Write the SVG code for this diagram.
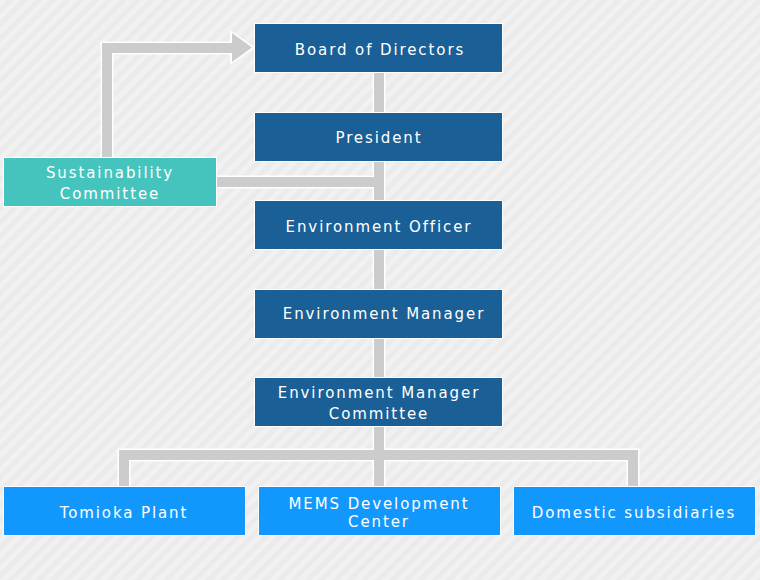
<svg xmlns="http://www.w3.org/2000/svg" width="760" height="580" viewBox="0 0 760 580">
<defs>
<pattern id="bg" patternUnits="userSpaceOnUse" width="10" height="10" patternTransform="rotate(45)">
<rect width="10" height="10" fill="#ebebeb"/>
<rect width="5" height="10" fill="#f1f1f1"/>
</pattern>
<style>
.box{stroke:#ffffff;stroke-width:1}
.dark{fill:#1a6096}
.teal{fill:#45c4be}
.bright{fill:#1298fd}
.t{font-family:"DejaVu Sans",Verdana,sans-serif;font-size:15px;fill:#ffffff;text-anchor:middle;letter-spacing:1.9px}
.cw{fill:none;stroke:#ffffff;stroke-width:13}
.cg{fill:none;stroke:#cccccc;stroke-width:10}
</style>
</defs>
<rect width="760" height="580" fill="url(#bg)"/>
<g id="connectors">
<path class="cw" d="M379 72V486 M216 182H379 M107 157V48H232 M124 486V455H633V486"/>
<polygon points="230,30 255,47.5 230,65" fill="#ffffff"/>
<path class="cg" d="M379 72V486 M216 182H379 M107 157V48H233 M124 486V455H633V486"/>
<polygon points="232,33 252,47.5 232,62" fill="#cccccc"/>
</g>
<g id="board"><rect class="box dark" x="254.5" y="23.5" width="248" height="49"/><text class="t" x="380" y="55">Board of Directors</text></g>
<g id="president"><rect class="box dark" x="254.5" y="112.5" width="248" height="49"/><text class="t" x="379" y="143">President</text></g>
<g id="sustainability"><rect class="box teal" x="3.5" y="157.5" width="213" height="49"/><text class="t" x="110" y="178">Sustainability</text><text class="t" x="110" y="199">Committee</text></g>
<g id="env-officer"><rect class="box dark" x="254.5" y="200.5" width="248" height="49"/><text class="t" x="379" y="232">Environment Officer</text></g>
<g id="env-manager"><rect class="box dark" x="254.5" y="289.5" width="248" height="49"/><text class="t" x="384" y="319">Environment Manager</text></g>
<g id="env-manager-committee"><rect class="box dark" x="254.5" y="377.5" width="248" height="49"/><text class="t" x="379" y="398">Environment Manager</text><text class="t" x="379" y="419">Committee</text></g>
<g id="tomioka"><rect class="box bright" x="3.5" y="486.5" width="242" height="49"/><text class="t" x="124" y="518">Tomioka Plant</text></g>
<g id="mems"><rect class="box bright" x="258.5" y="486.5" width="242" height="49"/><text class="t" x="379" y="509">MEMS Development</text><text class="t" x="379" y="527">Center</text></g>
<g id="domestic"><rect class="box bright" x="513.5" y="486.5" width="242" height="49"/><text class="t" x="634" y="518">Domestic subsidiaries</text></g>
</svg>
